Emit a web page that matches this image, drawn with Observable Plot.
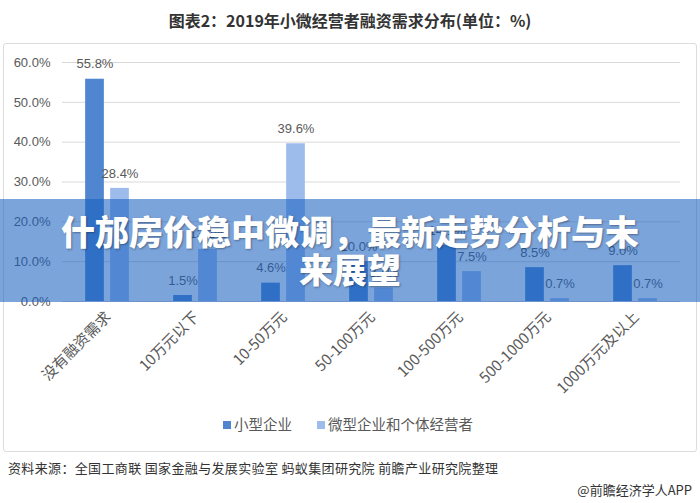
<!DOCTYPE html>
<html>
<head>
<meta charset="utf-8">
<script src="https://cdn.jsdelivr.net/npm/d3@7"></script>
<script src="https://cdn.jsdelivr.net/npm/@observablehq/plot@0.6"></script>
<style>
  html, body { margin: 0; padding: 0; background: #fff; }
  #wrap { position: relative; width: 700px; height: 503px; overflow: hidden; font-family: "Liberation Sans", "Noto Sans CJK SC", sans-serif; }
  #title { position: absolute; left: 0; top: 8px; width: 700px; text-align: center; font-family: "Noto Sans CJK SC", sans-serif; font-weight: bold; font-size: 16px; color: #333; line-height: 24px; }
  #box { position: absolute; left: 3px; top: 43px; width: 692px; height: 407px; border: 1px solid #dcdcdc; border-radius: 3px; }
  #chart { position: absolute; left: 0; top: 43px; }
  #legend { position: absolute; top: 414px; left: 0; width: 700px; font-family: "Noto Sans CJK SC", sans-serif; font-size: 14.5px; color: #595959; }
  #legend span.item { position: absolute; top: 0; white-space: nowrap; line-height: 20px; }
  #legend i { display: inline-block; width: 8px; height: 8px; margin-right: 3px; vertical-align: 1px; }
  #source { position: absolute; left: 8px; top: 458px; font-family: "Noto Sans CJK SC", sans-serif; font-size: 13px; letter-spacing: 0.35px; color: #333; white-space: nowrap; }
  #credit { position: absolute; right: 8px; top: 480px; font-family: "Noto Sans CJK SC", sans-serif; font-size: 13px; color: #333; white-space: nowrap; }
  #banner { position: absolute; left: 0; top: 199px; width: 700px; height: 103px; background: rgba(23,95,191,0.57); }
  #banner div { position: absolute; left: 0; width: 700px; text-align: center; color: #fff; font-family: "Noto Sans CJK SC", sans-serif; font-weight: 900; font-size: 34px; letter-spacing: 0px; text-shadow: 1px 1px 2px rgba(0,0,0,0.35); line-height: 38px; }
</style>
</head>
<body>
<div id="wrap">
  <div id="title">图表2：2019年小微经营者融资需求分布(单位：%)</div>
  <div id="box"></div>
  <div id="chart"></div>
  <div id="legend"></div>
  <div id="banner">
    <div style="top:13px">什邡房价稳中微调，最新走势分析与未</div>
    <div style="top:51px">来展望</div>
  </div>
  <div id="source">资料来源：全国工商联 国家金融与发展实验室 蚂蚁集团研究院 前瞻产业研究院整理</div>
  <div id="credit">@前瞻经济学人APP</div>
</div>
<script>
const categories = ["没有融资需求", "10万元以下", "10-50万元", "50-100万元", "100-500万元", "500-1000万元", "1000万元及以上"];
const seriesNames = ["小型企业", "微型企业和个体经营者"];
const smallValues = [55.8, 1.5, 4.6, 10.0, 14.1, 8.5, 9.0];
const microValues = [28.4, 13.1, 39.6, 3.4, 7.5, 0.7, 0.7];
const yTicks = [0, 10, 20, 30, 40, 50, 60];
const colors = ["#4f86cf", "#9dbcec"];

const small = categories.map((c, i) => ({category: c, value: smallValues[i]}));
const micro = categories.map((c, i) => ({category: c, value: microValues[i]}));

const W = 700, H = 407;
const bandStep = (700 - 62 - 20) / categories.length;
const barW = 19;
const inset = (bandStep - barW) / 2;
const off = 12.5;
const fmt = v => v.toFixed(1) + "%";

const chart = Plot.plot({
  width: W,
  height: H,
  marginLeft: 62,
  marginRight: 20,
  marginTop: 19,
  marginBottom: 149,
  style: {fontFamily: "Liberation Sans, Noto Sans CJK SC, sans-serif", background: "transparent"},
  x: {domain: categories, padding: 0, label: null},
  y: {domain: [0, 60], ticks: yTicks, label: null},
  marks: [
    Plot.gridY(yTicks, {stroke: "#d9d9d9", strokeOpacity: 1}),
    Plot.axisY(yTicks, {tickSize: 0, tickPadding: 12, tickFormat: fmt, fontSize: 13, fill: "#595959", label: null}),
    Plot.axisX({tickSize: 0, tickPadding: 13, tickRotate: -45, fontSize: 15, fill: "#595959", dx: 1, fontFamily: "Noto Sans CJK SC, sans-serif", label: null}),
    Plot.barY(small, {x: "category", y: "value", fill: colors[0], dx: -off, insetLeft: inset, insetRight: inset}),
    Plot.barY(micro, {x: "category", y: "value", fill: colors[1], dx: off, insetLeft: inset, insetRight: inset}),
    Plot.text(small, {x: "category", y: "value", text: d => fmt(d.value), dx: -off, dy: -15, fontSize: 13, fill: "#595959"}),
    Plot.text(micro, {x: "category", y: "value", text: d => fmt(d.value), dx: off, dy: -15, fontSize: 13, fill: "#595959"})
  ]
});
document.getElementById("chart").appendChild(chart);

const legend = document.getElementById("legend");
const legendX = [223, 317];
seriesNames.forEach((name, i) => {
  const s = document.createElement("span");
  s.className = "item";
  s.style.left = legendX[i] + "px";
  s.innerHTML = `<i style="background:${colors[i]}"></i>${name}`;
  legend.appendChild(s);
});
</script>
</body>
</html>
